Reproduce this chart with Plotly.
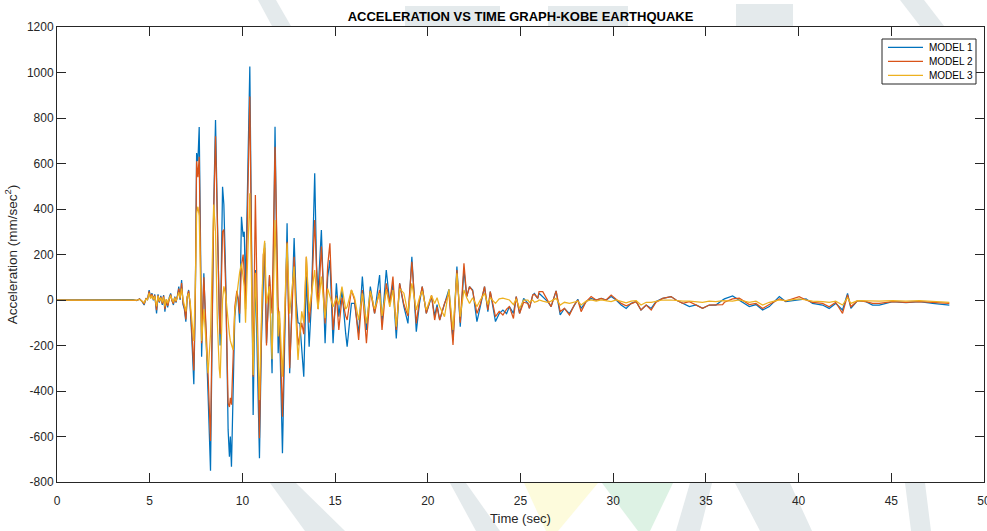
import plotly.graph_objects as go

# Ground acceleration records (mm/sec^2) for three structural models, Kobe earthquake
time_s = [
    0.0, 3.9, 4.1, 4.3, 4.45, 4.6, 4.7, 4.8, 4.88, 4.97, 5.05, 5.12, 5.2, 5.27, 5.37, 5.45,
    5.52, 5.6, 5.68, 5.75, 5.82, 5.9, 5.97, 6.05, 6.13, 6.2, 6.28, 6.35, 6.42, 6.5, 6.57,
    6.64, 6.72, 6.8, 6.87, 6.95, 7.02, 7.1, 7.18, 7.26, 7.38, 7.46, 7.53, 7.6, 7.67, 7.74,
    7.8, 7.92, 8.06, 8.15, 8.28, 8.36, 8.45, 8.55, 8.65, 8.75, 8.8, 8.93, 9.0, 9.1, 9.23,
    9.3, 9.35, 9.41, 9.5, 9.59, 9.7, 9.77, 9.85, 9.95, 10.04, 10.1, 10.17, 10.28, 10.4,
    10.5, 10.58, 10.7, 10.8, 10.92, 11.02, 11.13, 11.2, 11.3, 11.46, 11.6, 11.76, 11.93,
    12.0, 12.16, 12.3, 12.41, 12.55, 12.68, 12.79, 12.9, 13.0, 13.1, 13.2, 13.31, 13.45,
    13.6, 13.72, 13.9, 14.0, 14.08, 14.26, 14.46, 14.6, 14.72, 14.89, 15.07, 15.2, 15.37,
    15.57, 15.65, 15.88, 16.05, 16.27, 16.47, 16.69, 16.9, 17.13, 17.4, 17.53, 17.76,
    17.95, 18.12, 18.3, 18.48, 18.71, 18.93, 19.14, 19.38, 19.55, 19.7, 19.92, 20.2,
    20.37, 20.5, 20.64, 20.9, 21.14, 21.36, 21.57, 21.75, 21.95, 22.1, 22.25, 22.42,
    22.65, 22.83, 23.06, 23.24, 23.37, 23.65, 23.85, 24.05, 24.25, 24.4, 24.62, 24.77,
    24.95, 25.17, 25.4, 25.48, 25.66, 25.75, 25.93, 26.0, 26.2, 26.47, 26.65, 26.92,
    27.14, 27.37, 27.64, 27.9, 28.09, 28.27, 28.54, 28.81, 29.08, 29.35, 29.62, 29.89,
    30.16, 30.43, 30.7, 30.97, 31.24, 31.5, 31.78, 32.05, 32.31, 32.67, 33.12, 33.39,
    33.75, 34.11, 34.47, 34.82, 35.18, 35.54, 35.9, 36.0, 36.44, 36.8, 37.34, 37.7,
    38.06, 38.42, 38.96, 39.3, 40.03, 40.4, 40.75, 41.29, 41.65, 42.0, 42.37, 42.64,
    42.82, 43.18, 43.63, 43.99, 44.35, 45.07, 45.79, 46.51, 47.23, 48.13,
]

model_1 = [
    0, 0, 2, -3, 5, -8, -22, 8, 0, 44, 8, 30, -2, 25, -59, 25,
    -12, 18, -22, 22, -51, 2, -32, 10, 29, -2, -22, 15, -12, 22, 59,
    0, 88, -20, -40, -95, 10, 44, -22, -147, -370, 0, 646, 610, 760, 260,
    -249, 118, -161, -420, -750, -200, 400, 791, 300, -60, -200, 498, 420, 100, -571,
    -689, -600, -733, -400, -73, 30, 0, -100, 366, 278, 300, 44, 500, 1026,
    200, -505, 132, -200, -696, -200, 147, 250, -190, 103, -322, 762, -234,
    -100, -674, -100, 337, -322, 0, 272, 0, -100, -103, -200, -337, 103,
    -205, -15, 557, 150, 30, 308, -190, 100, 176, -190, 73, -73, 44,
    -147, -205, -15, -15, -147, 103, -132, 59, -59, 110, -103, 132,
    -15, 73, -169, 73, -29, -103, 190, -139, -15, 59, -59, 15,
    -70, -20, -88, -15, 47, -176, 147, -117, 132, 15, 59, 44,
    -95, -29, 59, -51, 37, -95, -60, -44, -60, -29, -59, 15,
    -59, 7, -15, -37, 22, 29, 7, 30, 15, -7, -29, 40,
    -66, -37, -60, -22, 3, -37, -7, 7, 0, 7, 0, 15,
    0, -22, -37, -15, -7, -44, -22, -37, -7, 7, 15, 0,
    -15, -29, -22, -37, -22, -22, 0, 5, 18, 0, -29, -20,
    -44, -29, 15, -7, 0, 5, -15, -22, -37, -15, -44, 29,
    -37, -3, -7, -22, -22, -7, -12, -7, -15, -22,
]

model_2 = [
    0, 0, 1, -2, 4, -6, -18, 6, 2, 38, 10, 26, 3, 20, -45, 20,
    -8, 14, -16, 18, -40, 3, -26, 8, 25, -4, -16, 12, -8, 18, 50,
    6, 75, -14, -34, -85, 12, 40, -18, -120, -310, 10, 610, 540, 630, 180,
    -190, 100, -150, -330, -620, -150, 380, 720, 250, -40, -150, 300, 310, 50, -454,
    -470, -430, -460, -250, -30, 40, 10, -60, 150, 200, 120, -40, 450, 894,
    150, -337, 462, 0, -608, -150, 200, 230, -200, 110, -59, 674, -30,
    -80, -513, -50, 256, -300, -50, 190, -50, -200, -150, -100, -150, 190,
    -100, 0, 352, 100, -40, 235, -103, 150, 249, -132, 20, -132, 10,
    -70, -88, 44, 0, -176, 44, -190, 40, -59, 44, -132, 73,
    -15, 103, -132, 73, -20, -70, 168, -103, 0, 59, -59, 20,
    -88, -30, -88, -15, 30, -198, 132, -100, 161, 15, 59, 40,
    -59, -20, 59, -44, 37, -73, -50, -66, -40, -29, -81, 15,
    -59, -10, -15, -37, 22, 25, 7, 37, 37, -7, -29, 40,
    -51, -37, -66, -22, 0, -51, -7, 15, 0, 7, 0, 22,
    5, -15, -26, -15, -7, -44, -22, -44, -10, 7, 15, 0,
    -15, -7, -22, -37, -22, -22, -20, -10, 5, 8, -20, -15,
    -37, -20, 5, -5, 15, 0, -10, -15, -30, -10, -59, 22,
    -30, -3, -7, -15, -15, -7, -10, -7, -10, -15,
]

model_3 = [
    0, 0, 1, -1, 3, -4, -12, 5, 1, 30, 6, 20, 2, 16, -28, 18,
    -4, 10, -10, 12, -28, 4, -14, 6, 20, 2, -10, 10, -4, 14, 34,
    10, 50, 2, -18, -50, 14, 30, -8, -80, -180, 60, 380, 410, 370, 90,
    -180, -40, -200, -322, -150, 80, 420, 300, -100, -300, -344, 0, 60, 20, -110,
    -150, -180, -200, -220, -50, 30, 60, 120, 161, 100, 60, -100, 200, 469,
    50, -330, 120, -100, -440, -100, 200, 260, -15, 60, -260, 352, -160,
    -50, -337, 0, 249, -60, 50, 147, -100, -264, -150, -50, -100, 190,
    -50, 20, 132, 20, -40, 103, -80, 50, 20, -30, 10, -20, 59,
    -40, -30, 44, 10, -88, 29, -103, 40, -40, 30, -70, 44,
    -30, 44, -117, 50, 30, -59, 73, -44, 10, 40, -44, 20,
    -15, 10, -30, -73, 47, -132, 117, -73, 44, 10, -15, 10,
    -29, 0, 29, -20, 10, -15, 5, 8, 5, 0, -20, 5,
    -37, 0, 0, -10, 0, -10, -5, 0, -5, -10, -5, 7,
    -22, -10, -15, -10, -5, -22, -5, 0, -5, 0, -5, -7,
    0, -5, -12, -5, -3, -22, -10, -10, -5, 0, 0, -3,
    -5, -5, -7, -10, -5, -7, -3, -3, -5, 0, -10, -5,
    -22, -10, 0, -3, 5, 0, -5, -7, -10, -5, -22, 10,
    -15, -3, -5, -5, -5, -3, -5, -3, -5, -10,
]

series_names = ["MODEL 1", "MODEL 2", "MODEL 3"]
series_colors = ["#0072BD", "#D95319", "#EDB120"]

x_ticks = list(range(0, 51, 5))
y_ticks = list(range(-800, 1201, 200))

W, H = 987, 531
M_L, M_R, M_T, M_B = 57, 3, 27, 49
PLOT_W, PLOT_H = W - M_L - M_R, H - M_T - M_B


def to_paper(px, py):
    """Convert a page pixel position into paper coordinates."""
    return (px - M_L) / PLOT_W, (H - M_B - py) / PLOT_H


def poly_path(points):
    pts = [to_paper(px, py) for px, py in points]
    return "M " + " L ".join(f"{x:.4f},{y:.4f}" for x, y in pts) + " Z"


fig = go.Figure()
for name, values, color in zip(series_names, [model_1, model_2, model_3], series_colors):
    fig.add_trace(go.Scatter(
        x=time_s, y=values, mode="lines", name=name,
        line=dict(color=color, width=1.25), showlegend=False,
    ))

axis_color = "#262626"
font_family = "Liberation Sans, Arial, sans-serif"

# Faint page watermark showing in the figure margins
wm_gray, wm_yellow, wm_green = "#e4eaec", "#fdfbdc", "#ddf2e4"
watermark = [
    ([(270, 483), (296, 483), (345, 531), (305, 531)], wm_gray),
    ([(450, 483), (466, 483), (500, 531), (476, 531)], wm_gray),
    ([(524, 483), (598, 483), (558, 531), (546, 531)], wm_yellow),
    ([(602, 483), (673, 483), (650, 531), (638, 531)], wm_green),
    ([(690, 483), (712, 483), (700, 531), (676, 531)], wm_gray),
    ([(735, 483), (790, 483), (812, 531), (760, 531)], wm_gray),
    ([(905, 483), (925, 483), (931, 531), (911, 531)], wm_gray),
    ([(258, 0), (276, 0), (291, 26), (272, 26)], wm_gray),
    ([(405, 6), (500, 6), (500, 26), (405, 26)], wm_gray),
    ([(548, 6), (628, 6), (628, 26), (548, 26)], wm_gray),
    ([(736, 4), (793, 4), (793, 26), (736, 26)], wm_gray),
    ([(900, 0), (924, 0), (944, 26), (920, 26)], wm_gray),
]
shapes = [
    dict(type="path", path=poly_path(pts), xref="paper", yref="paper",
         layer="below", fillcolor=col, line=dict(width=0))
    for pts, col in watermark
]

# Compact boxed legend in the upper-right corner
bx0, by1 = to_paper(882, 39)
bx1, by0 = to_paper(976, 84)
shapes.append(dict(
    type="rect", xref="paper", yref="paper", layer="above",
    x0=bx0, x1=bx1, y0=by0, y1=by1,
    line=dict(color="#262626", width=1), fillcolor="white",
))
annotations = []
for name, color, row_py in zip(series_names, series_colors, [47.3, 61.3, 75.3]):
    lx0, ly = to_paper(888, row_py)
    lx1, _ = to_paper(923, row_py)
    tx, _ = to_paper(927, row_py)
    shapes.append(dict(
        type="line", xref="paper", yref="paper", layer="above",
        x0=lx0, x1=lx1, y0=ly, y1=ly, line=dict(color=color, width=1.25),
    ))
    annotations.append(dict(
        text=name, xref="paper", yref="paper", x=tx, y=ly,
        xanchor="left", yanchor="middle", showarrow=False,
        font=dict(size=10, color="#000000", family=font_family),
    ))

fig.update_layout(
    width=W, height=H,
    margin=dict(l=M_L, r=M_R, t=M_T, b=M_B),
    paper_bgcolor="white", plot_bgcolor="white",
    font=dict(family=font_family, size=12, color=axis_color),
    title=dict(
        text="<b>ACCELERATION VS TIME GRAPH-KOBE EARTHQUAKE</b>",
        x=0.5, xref="paper", xanchor="center",
        y=1 - 16 / H, yref="container", yanchor="middle",
        font=dict(size=13, color="#000000"),
    ),
    showlegend=False,
    shapes=shapes,
    annotations=annotations,
)

fig.update_xaxes(
    range=[0, 50], tickvals=x_ticks, ticktext=[str(v) for v in x_ticks],
    showgrid=False, zeroline=False, automargin=False,
    showline=True, linecolor=axis_color, linewidth=1, mirror="ticks",
    ticks="inside", ticklen=9, tickcolor=axis_color,
    ticklabelstandoff=8, ticklabeloverflow="allow",
    title=dict(text="Time (sec)", font=dict(size=13), standoff=6),
)
fig.update_yaxes(
    range=[-800, 1200], tickvals=y_ticks, ticktext=[str(v) for v in y_ticks],
    showgrid=False, zeroline=False, automargin=False,
    showline=True, linecolor=axis_color, linewidth=1, mirror="ticks",
    ticks="inside", ticklen=9, tickcolor=axis_color,
    ticklabeloverflow="allow",
    title=dict(text="Acceleration (mm/sec<sup>2</sup>)", font=dict(size=13.5), standoff=6),
)

fig.write_html("out.html")
